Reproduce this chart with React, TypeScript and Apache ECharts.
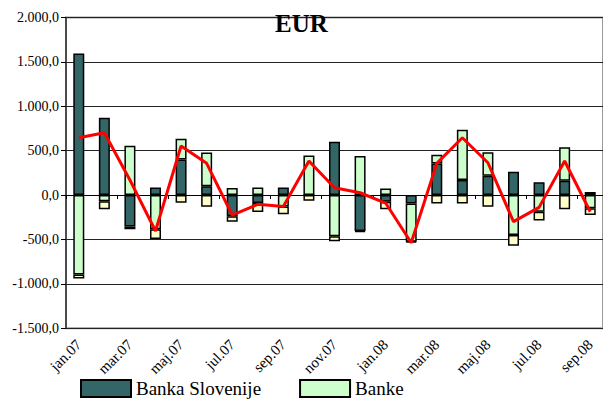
import React, { useEffect, useRef } from "react";
import * as echarts from "echarts";

const months = [
  "jan.07", "feb.07", "mar.07", "apr.07", "maj.07", "jun.07", "jul.07", "avg.07", "sep.07", "okt.07", "nov.07", "dec.07",
  "jan.08", "feb.08", "mar.08", "apr.08", "maj.08", "jun.08", "jul.08", "avg.08", "sep.08",
];
const bankaSlovenije = [1595, 870, -355, 85, 400, 100, -240, -90, 85, 0, 600, -405, -75, -95, 355, 170, 218, 263, 143, 161, 35];
const banke = [-895, -70, 555, -385, 235, 380, 80, 85, -130, 445, -465, 440, 75, -430, 100, 565, 263, -450, -188, 376, -150];
const ostali = [-45, -90, -30, -110, -87, -132, -60, -100, -85, -65, -55, -10, -86, -10, -94, -94, -131, -121, -100, -161, -75];
const skupaj = [645, 702, 169, -405, 552, 357, -225, -105, -130, 383, 83, 26, -90, -537, 357, 645, 364, -300, -139, 383, -188];
const yTicks = { min: -1500, max: 2000, interval: 500 };

const FONT = "'Liberation Serif', 'Times New Roman', serif";

function fmt(v: number): string {
  const neg = v < 0;
  const a = Math.abs(v);
  const s = String(Math.round(a)).replace(/\B(?=(\d{3})+(?!\d))/g, ".");
  return (neg ? "-" : "") + s + ",0";
}

export default function App() {
  const ref = useRef<HTMLDivElement>(null);
  useEffect(() => {
    document.body.style.margin = "0";
    const chart = echarts.init(ref.current!, null, { renderer: "svg" });
    const barStyle = (color: string) => ({ color, borderColor: "#000", borderWidth: 1.5 });
    chart.setOption({
      animation: false,
      textStyle: { fontFamily: FONT },
      title: {
        text: "EUR",
        left: "center",
        top: 6,
        textStyle: { fontFamily: FONT, fontSize: 25, fontWeight: "bold", color: "#000" },
      },
      legend: {
        data: ["Banka Slovenije", "Banke"],
        left: 80,
        top: 379,
        padding: 0,
        itemWidth: 50,
        itemHeight: 17,
        itemGap: 38,
        icon: "rect",
        textStyle: { fontFamily: FONT, fontSize: 19, color: "#000" },
      },
      grid: {
        left: 66,
        top: 17.5,
        width: 541,
        height: 310.7,
        show: true,
        borderColor: "#999",
        borderWidth: 2,
        backgroundColor: "transparent",
      },
      xAxis: [
        {
          type: "category",
          data: months,
          position: "bottom",
          axisLine: { show: false, onZero: false },
          axisTick: { show: false },
          axisLabel: {
            interval: 1,
            rotate: 45,
            margin: 14,
            fontFamily: FONT,
            fontSize: 15,
            color: "#000",
          },
          splitLine: { show: false },
        },
        {
          type: "category",
          data: months,
          position: "top",
          axisLine: { show: true, onZero: true, lineStyle: { color: "#000", width: 1 } },
          axisTick: { show: true, interval: 1, inside: true, length: 4, lineStyle: { color: "#000" } },
          axisLabel: { show: false },
          splitLine: { show: false },
        },
      ],
      yAxis: {
        type: "value",
        min: yTicks.min,
        max: yTicks.max,
        interval: yTicks.interval,
        axisLine: { show: true, lineStyle: { color: "#333", width: 1.5 } },
        axisTick: { show: true, length: 5, lineStyle: { color: "#000" } },
        axisLabel: {
          formatter: (v: number) => fmt(v),
          margin: 7,
          fontFamily: FONT,
          fontSize: 14,
          color: "#000",
        },
        splitLine: { show: true, lineStyle: { color: "#222", width: 1 } },
      },
      series: [
        {
          name: "Banka Slovenije",
          type: "bar",
          stack: "t",
          data: bankaSlovenije,
          barWidth: 11,
          itemStyle: barStyle("#336666"),
        },
        {
          name: "Banke",
          type: "bar",
          stack: "t",
          data: banke,
          barWidth: 11,
          itemStyle: barStyle("#CCFFCC"),
        },
        {
          name: "Ostali",
          type: "bar",
          stack: "t",
          data: ostali,
          barWidth: 11,
          itemStyle: barStyle("#FFFFCC"),
        },
        {
          name: "Skupaj",
          type: "line",
          data: skupaj,
          symbol: "none",
          z: 5,
          lineStyle: { color: "#FF0000", width: 3 },
        },
      ],
    });
    return () => chart.dispose();
  }, []);
  return <div ref={ref} style={{ width: 603, height: 409 }} />;
}
